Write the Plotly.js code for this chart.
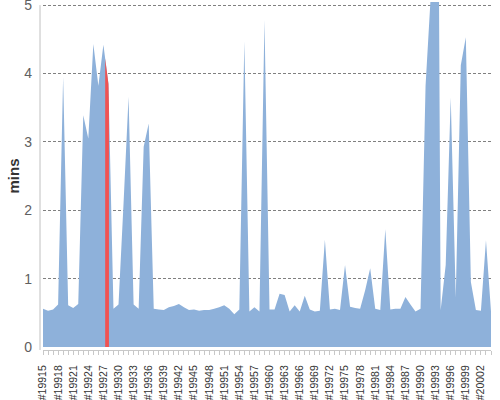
<!DOCTYPE html>
<html>
<head>
<meta charset="utf-8">
<script src="https://cdn.plot.ly/plotly-3.0.1.min.js"></script>
<style>html,body{margin:0;padding:0;background:#fff;}#chart{width:500px;height:400px;}</style>
</head>
<body>
<div id="chart"></div>
<script>
// Episode labels (#19915 ... #20004)
const firstEpisode = 19915;
const episodeCount = 90;
const episodes = [];
for (let k = 0; k < episodeCount; k++) episodes.push('#' + (firstEpisode + k));

// Minutes per episode
const minutes = [
  0.56, 0.53, 0.55, 0.62, 3.95, 0.61, 0.57, 0.63, 3.39, 3.05,
  4.43, 3.82, 4.42, 3.85, 0.56, 0.62, 2.10, 3.66, 0.62, 0.56,
  2.93, 3.27, 0.56, 0.55, 0.54, 0.58, 0.60, 0.63, 0.58, 0.54,
  0.55, 0.53, 0.54, 0.54, 0.56, 0.58, 0.61, 0.56, 0.48, 0.55,
  4.47, 0.52, 0.58, 0.52, 4.78, 0.55, 0.55, 0.78, 0.76, 0.52,
  0.61, 0.52, 0.75, 0.55, 0.52, 0.53, 1.57, 0.55, 0.56, 0.54,
  1.20, 0.59, 0.57, 0.56, 0.83, 1.15, 0.56, 0.54, 1.72, 0.55,
  0.56, 0.56, 0.73, 0.62, 0.52, 0.56, 3.82, 5.10, 14.5, 0.54,
  1.20, 3.65, 0.72, 4.12, 4.53, 0.95, 0.54, 0.53, 1.56, 0.52
];

// Highlighted episode
const highlightEpisode = '#19928';

// Tick labels: every third episode
const tickEvery = 3;
const yMax = 5;

const idx = episodes.map((_, k) => k);
const tickVals = idx.filter(k => k % tickEvery === 0);
const tickText = tickVals.map(k => episodes[k]);

// highlight band geometry derived from the series itself
const hIdx = episodes.indexOf(highlightEpisode);
const bandLeft = 0.65, bandRight = 0.1;
function valueAt(x) {
  const a = Math.floor(x), b = Math.min(a + 1, minutes.length - 1);
  const t = x - a;
  return minutes[a] + (minutes[b] - minutes[a]) * t;
}
const hx = [hIdx - bandLeft, hIdx, hIdx + bandRight];
const hy = hx.map(valueAt);

const traces = [
  {
    x: idx, y: minutes, type: 'scatter', mode: 'none',
    fill: 'tozeroy', fillcolor: '#8eb1da',
    hoverinfo: 'skip', showlegend: false
  },
  {
    x: hx, y: hy, type: 'scatter', mode: 'none',
    fill: 'tozeroy', fillcolor: '#f05252',
    hoverinfo: 'skip', showlegend: false
  }
];

const font2 = "'Liberation Sans', Arial, sans-serif";
const yTop = yMax + 0.045, yBottom = -0.044;
const layout = {
  width: 500, height: 400,
  margin: {l: 43, r: 9, t: 2, b: 50, pad: 0},
  paper_bgcolor: '#ffffff', plot_bgcolor: '#ffffff',
  showlegend: false,
  font: {family: font2, color: '#333'},
  xaxis: {
    type: 'linear',
    range: [0, episodeCount - 1],
    tickmode: 'array', tickvals: tickVals, ticktext: tickText,
    tickangle: -90,
    tickfont: {family: font2, size: 10.5, color: '#333'},
    ticks: 'outside', ticklen: 4, tickcolor: '#c8c8c8', tickwidth: 1,
    ticklabelstandoff: 6,
    minor: {dtick: 1, tick0: 0, ticks: 'outside', ticklen: 4, tickcolor: '#c8c8c8', showgrid: false},
    showline: true, linecolor: '#c8c8c8', linewidth: 1,
    showgrid: false, zeroline: false, fixedrange: true
  },
  yaxis: {
    type: 'linear',
    autorange: false,
    range: [yBottom, yTop],
    tickmode: 'linear', tick0: 0, dtick: 1,
    tickfont: {family: font2, size: 14, color: '#606060'},
    ticks: '', ticklabelstandoff: 10,
    ticklabeloverflow: 'allow',
    showgrid: true, gridcolor: '#808080', gridwidth: 1, griddash: '3px,2px',
    zeroline: true, zerolinecolor: 'rgba(0,0,0,0)',
    showline: false,
    title: {text: 'mins', font: {family: font2, size: 15, color: '#333', weight: 'bold'}, standoff: 0},
    automargin: false,
    fixedrange: true
  },
  shapes: [
    {type: 'line', xref: 'paper', yref: 'paper', x0: -3/448, x1: -3/448, y0: 0, y1: (yMax - yBottom) / (yTop - yBottom),
     line: {color: '#c0c0c0', width: 1}}
  ]
};

Plotly.newPlot('chart', traces, layout, {displayModeBar: false, staticPlot: true});
</script>
</body>
</html>
